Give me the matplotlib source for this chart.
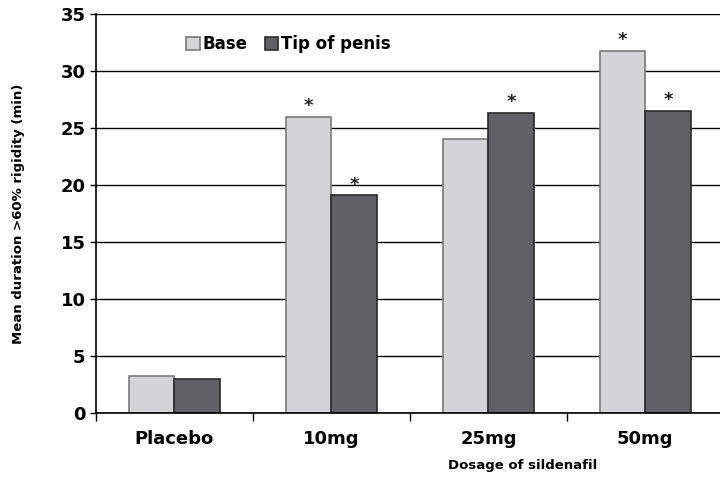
import numpy as np
import matplotlib.pyplot as plt

doses = ['Placebo', '10mg', '25mg', '50mg']
base = [3.25, 25.95, 24.05, 31.75]
tip = [3.0, 19.1, 26.3, 26.5]
base_sig = [False, True, False, True]
tip_sig = [False, True, True, True]

plt.rcParams['font.family'] = 'DejaVu Sans'
plt.rcParams['font.weight'] = 'bold'

fig = plt.figure(figsize=(7.2, 4.8), dpi=100)
ax = fig.add_axes([0.1333, 0.1396, 0.872, 0.8312])

x = np.arange(len(doses))
w = 0.29
ax.set_axisbelow(True)
ax.yaxis.grid(True, color='black', linewidth=1.0)
ax.bar(x - w/2, base, w, color='#d4d4d6', edgecolor='#7a7a7a', linewidth=1.2, label='Base')
ax.bar(x + w/2, tip, w, color='#616165', edgecolor='#2a2a2a', linewidth=1.2, label='Tip of penis')

# asterisks over significant bars
for i in range(len(doses)):
    if base_sig[i]:
        ax.text(x[i] - w/2, base[i] + 0.15, '*', ha='center', va='bottom', fontsize=13, color='#222222')
    if tip_sig[i]:
        ax.text(x[i] + w/2, tip[i] + 0.15, '*', ha='center', va='bottom', fontsize=13, color='#222222')

ax.set_xlim(-0.5, 3.5)
ax.set_ylim(0, 35)
ax.set_yticks(np.arange(0, 36, 5))
ax.tick_params(axis='y', labelsize=13, length=4, width=1)
ax.set_xticks(np.arange(-0.5, 3.6, 1.0))
ax.set_xticklabels([])
ax.set_xticks(x, minor=True)
ax.set_xticklabels(doses, minor=True, fontsize=13, fontweight='bold')
ax.tick_params(axis='x', which='major', length=6, width=1, direction='out')
ax.tick_params(axis='x', which='minor', length=0, pad=12)

for s in ['top', 'right']:
    ax.spines[s].set_visible(False)
ax.spines['left'].set_linewidth(1.2)
ax.spines['bottom'].set_linewidth(1.2)

ax.set_ylabel('Mean duration >60% rigidity (min)', fontsize=9.5, fontweight='bold')
ax.yaxis.set_label_coords(-0.113, 0.5)
ax.set_xlabel('Dosage of sildenafil', fontsize=9.5, fontweight='bold')
ax.xaxis.set_label_coords(0.68, -0.115)

ax.legend(loc='upper left', bbox_to_anchor=(0.12, 0.985), ncol=2, frameon=False,
          handlelength=0.8, handleheight=0.8, handletextpad=0.2,
          columnspacing=1.0, prop={'weight': 'bold', 'size': 12})

fig.savefig('out.png', dpi=100)
